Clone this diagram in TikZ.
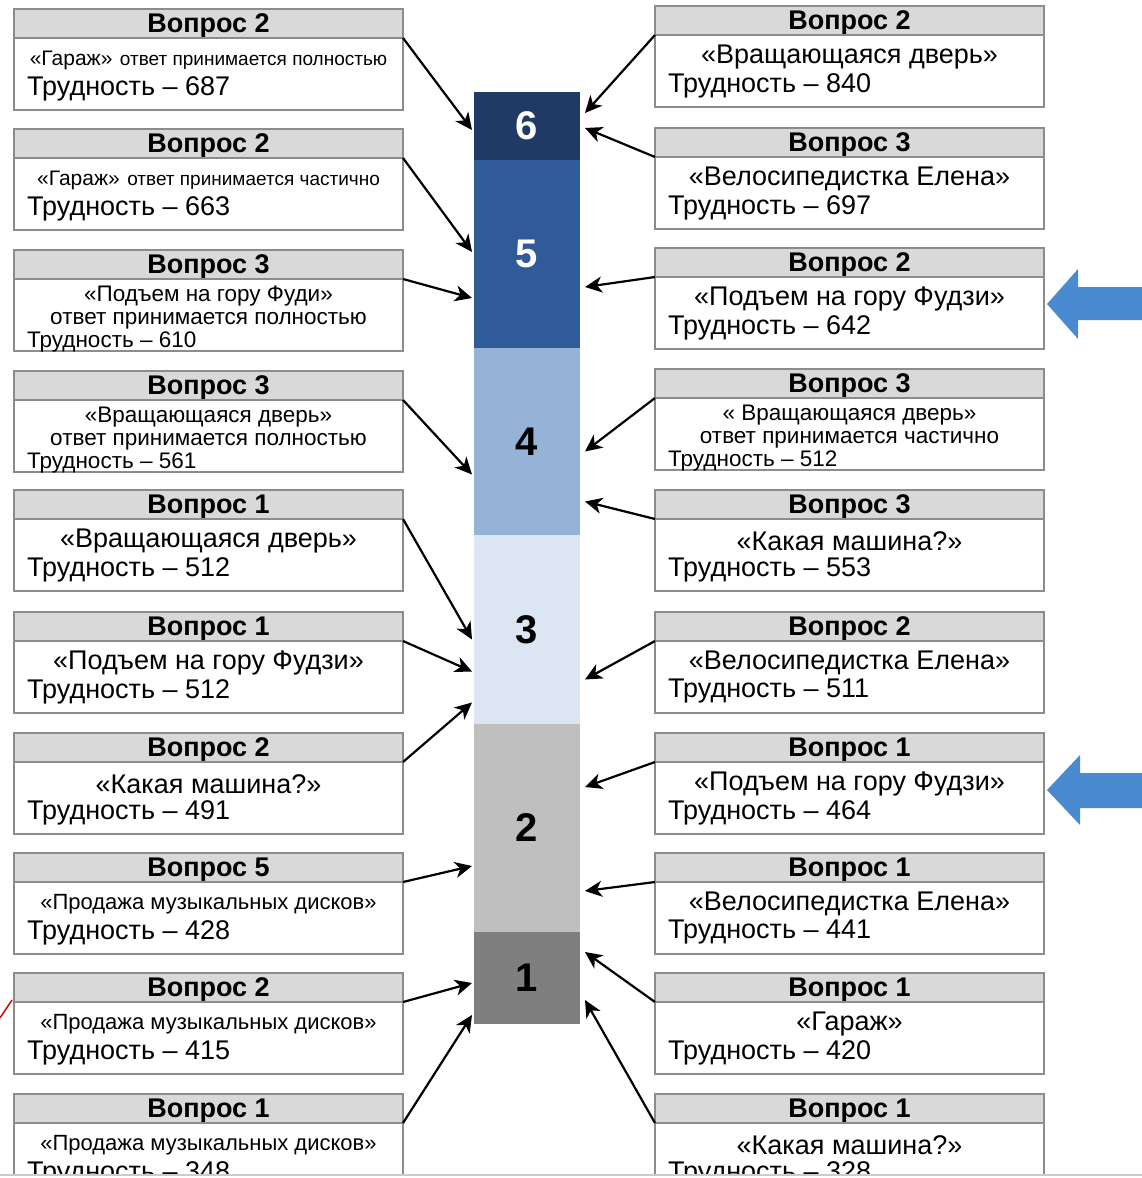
\documentclass[tikz,border=0pt]{standalone}
\usepackage{fontspec}
\setmainfont{Liberation Sans}
\usetikzlibrary{arrows.meta,positioning}

\definecolor{boxgray}{HTML}{8C8C8C}
\definecolor{headgray}{HTML}{D9D9D9}
\definecolor{lvlsix}{HTML}{1F3A64}
\definecolor{lvlfive}{HTML}{2F5C99}
\definecolor{lvlfour}{HTML}{95B3D7}
\definecolor{lvlthree}{HTML}{DCE6F2}
\definecolor{lvltwo}{HTML}{BFBFBF}
\definecolor{lvlone}{HTML}{7F7F7F}
\definecolor{pointer}{HTML}{4A8AD0}

\newcommand{\fsz}[1]{\fontsize{#1}{#1}\selectfont}

% question card: name, layout (two/three), top-left corner, header, middle, last line
\newcommand{\qcard}[6]{%
  \node[qhead, anchor=north west] (#1h) at (#3) {#4};
  \node[qbody, below=0pt of #1h] (#1) {};
  \node[#2 mid] (#1m) at (#1.north) {#5};
  \node[#2 last] (#1l) at (#1.south west) {#6};
}

\begin{document}
\begin{tikzpicture}[x=1pt, y=-1pt,
    card/.style={draw=boxgray, line width=2pt, minimum width=389pt, inner sep=0pt, outer sep=0pt},
    qhead/.style={card, fill=headgray, minimum height=29pt, text depth=0pt, font=\bfseries\fsz{27}},
    qbody/.style={card, fill=white, minimum height=72pt},
    qtext/.style={inner sep=0pt, font=\fsz{27}},
    two mid/.style={qtext, yshift=-22pt},
    two last/.style={qtext, anchor=west, xshift=13pt, yshift=21.5pt},
    three mid/.style={qtext, align=center, yshift=-28.5pt, font=\fontsize{22.5}{23}\selectfont},
    three last/.style={qtext, anchor=west, xshift=13pt, yshift=9pt, font=\fsz{22.5}},
    level/.style={minimum width=106pt, inner sep=0pt, outer sep=0pt, font=\bfseries\fsz{40}},
    link/.style={-{Stealth[length=17pt, width=16pt, inset=5pt]}, line width=2.2pt}
]
\useasboundingbox (0,0) rectangle (1142,1178);
\begin{scope}
\clip (0,0) rectangle (1142,1174);

% difficulty scale
\node[level, fill=lvlsix, text=white, minimum height=68pt, anchor=north west] (seg6) at (474,92) {6};
\node[level, fill=lvlfive, text=white, minimum height=188pt, below=0pt of seg6] (seg5) {5};
\node[level, fill=lvlfour, minimum height=187pt, below=0pt of seg5] (seg4) {4};
\node[level, fill=lvlthree, minimum height=189pt, below=0pt of seg4] (seg3) {3};
\node[level, fill=lvltwo, minimum height=208pt, below=0pt of seg3] (seg2) {2};
\node[level, fill=lvlone, minimum height=92pt, below=0pt of seg2] (seg1) {1};

% left column
\qcard{L1}{two}{14,9}{Вопрос 2}{{\fsz{21}«Гараж»} {\fsz{19}ответ принимается полностью}}{Трудность – 687}
\qcard{L2}{two}{14,129}{Вопрос 2}{{\fsz{21}«Гараж»} {\fsz{19}ответ принимается частично}}{Трудность – 663}
\qcard{L3}{three}{14,250}{Вопрос 3}{«Подъем на гору Фуди»\\ответ принимается полностью}{Трудность – 610}
\qcard{L4}{three}{14,371}{Вопрос 3}{«Вращающаяся дверь»\\ответ принимается полностью}{Трудность – 561}
\qcard{L5}{two}{14,490}{Вопрос 1}{«Вращающаяся дверь»}{Трудность – 512}
\qcard{L6}{two}{14,612}{Вопрос 1}{«Подъем на гору Фудзи»}{Трудность – 512}
\qcard{L7}{two}{14,733}{Вопрос 2}{«Какая машина?»}{Трудность – 491}
\qcard{L8}{two}{14,853}{Вопрос 5}{{\fsz{22}«Продажа музыкальных дисков»}}{Трудность – 428}
\qcard{L9}{two}{14,973}{Вопрос 2}{{\fsz{22}«Продажа музыкальных дисков»}}{Трудность – 415}
\qcard{L10}{two}{14,1094}{Вопрос 1}{{\fsz{22}«Продажа музыкальных дисков»}}{Трудность – 348}

% right column
\qcard{R1}{two}{655,6}{Вопрос 2}{«Вращающаяся дверь»}{Трудность – 840}
\qcard{R2}{two}{655,128}{Вопрос 3}{«Велосипедистка Елена»}{Трудность – 697}
\qcard{R3}{two}{655,248}{Вопрос 2}{«Подъем на гору Фудзи»}{Трудность – 642}
\qcard{R4}{three}{655,369}{Вопрос 3}{« Вращающаяся дверь»\\ответ принимается частично}{Трудность – 512}
\qcard{R5}{two}{655,490}{Вопрос 3}{«Какая машина?»}{Трудность – 553}
\qcard{R6}{two}{655,612}{Вопрос 2}{«Велосипедистка Елена»}{Трудность – 511}
\qcard{R7}{two}{655,733}{Вопрос 1}{«Подъем на гору Фудзи»}{Трудность – 464}
\qcard{R8}{two}{655,853}{Вопрос 1}{«Велосипедистка Елена»}{Трудность – 441}
\qcard{R9}{two}{655,973}{Вопрос 1}{«Гараж»}{Трудность – 420}
\qcard{R10}{two}{655,1094}{Вопрос 1}{«Какая машина?»}{Трудность – 328}

% arrows into the scale
\draw[link] (L1h.south east) -- ([xshift=-2pt, yshift=-4pt]seg6.west);
\draw[link] (L2h.south east) -- ([xshift=-2pt, yshift=2pt]seg5.west);
\draw[link] (L3h.south east) -- ([xshift=-2pt, yshift=-44pt]seg5.west);
\draw[link] (L4h.south east) -- ([xshift=-2pt, yshift=-33pt]seg4.west);
\draw[link] (L5h.south east) -- ([xshift=-2pt, yshift=-10pt]seg3.west);
\draw[link] (L6h.south east) -- ([xshift=-2pt, yshift=-42pt]seg3.west);
\draw[link] (L7h.south east) -- ([xshift=-2pt, yshift=-73pt]seg3.west);
\draw[link] (L8h.south east) -- ([xshift=-2pt, yshift=-38pt]seg2.west);
\draw[link] (L9h.south east) -- ([xshift=-2pt, yshift=-5pt]seg1.west);
\draw[link] (L10h.south east) -- ([xshift=-2pt, yshift=-37pt]seg1.west);

\draw[link] (R1h.south west) -- ([xshift=5pt, yshift=13pt]seg6.east);
\draw[link] (R2h.south west) -- ([xshift=5pt, yshift=-2pt]seg6.east);
\draw[link] (R3h.south west) -- ([xshift=5pt, yshift=-33pt]seg5.east);
\draw[link] (R4h.south west) -- ([xshift=5pt, yshift=-10pt]seg4.east);
\draw[link] (R5h.south west) -- ([xshift=5pt, yshift=-60pt]seg4.east);
\draw[link] (R6h.south west) -- ([xshift=5pt, yshift=-50pt]seg3.east);
\draw[link] (R7h.south west) -- ([xshift=5pt, yshift=41pt]seg2.east);
\draw[link] (R8h.south west) -- ([xshift=5pt, yshift=-63pt]seg2.east);
\draw[link] (R9h.south west) -- ([xshift=5pt, yshift=26pt]seg1.east);
\draw[link] (R10h.south west) -- ([xshift=5pt, yshift=-22pt]seg1.east);

% blue pointers
\fill[pointer] (1047,304) -- (1078,269) -- (1078,287) -- (1142,287) -- (1142,320) -- (1078,320) -- (1078,339) -- cycle;
\fill[pointer] (1047,790) -- (1080,755) -- (1080,773) -- (1142,773) -- (1142,808) -- (1080,808) -- (1080,825) -- cycle;

\draw[red!80!black, line width=1.5pt] (0,1018) -- (12,1000);
\end{scope}

\draw[black!20, line width=2pt] (0,1175) -- (1142,1175);
\end{tikzpicture}
\end{document}
